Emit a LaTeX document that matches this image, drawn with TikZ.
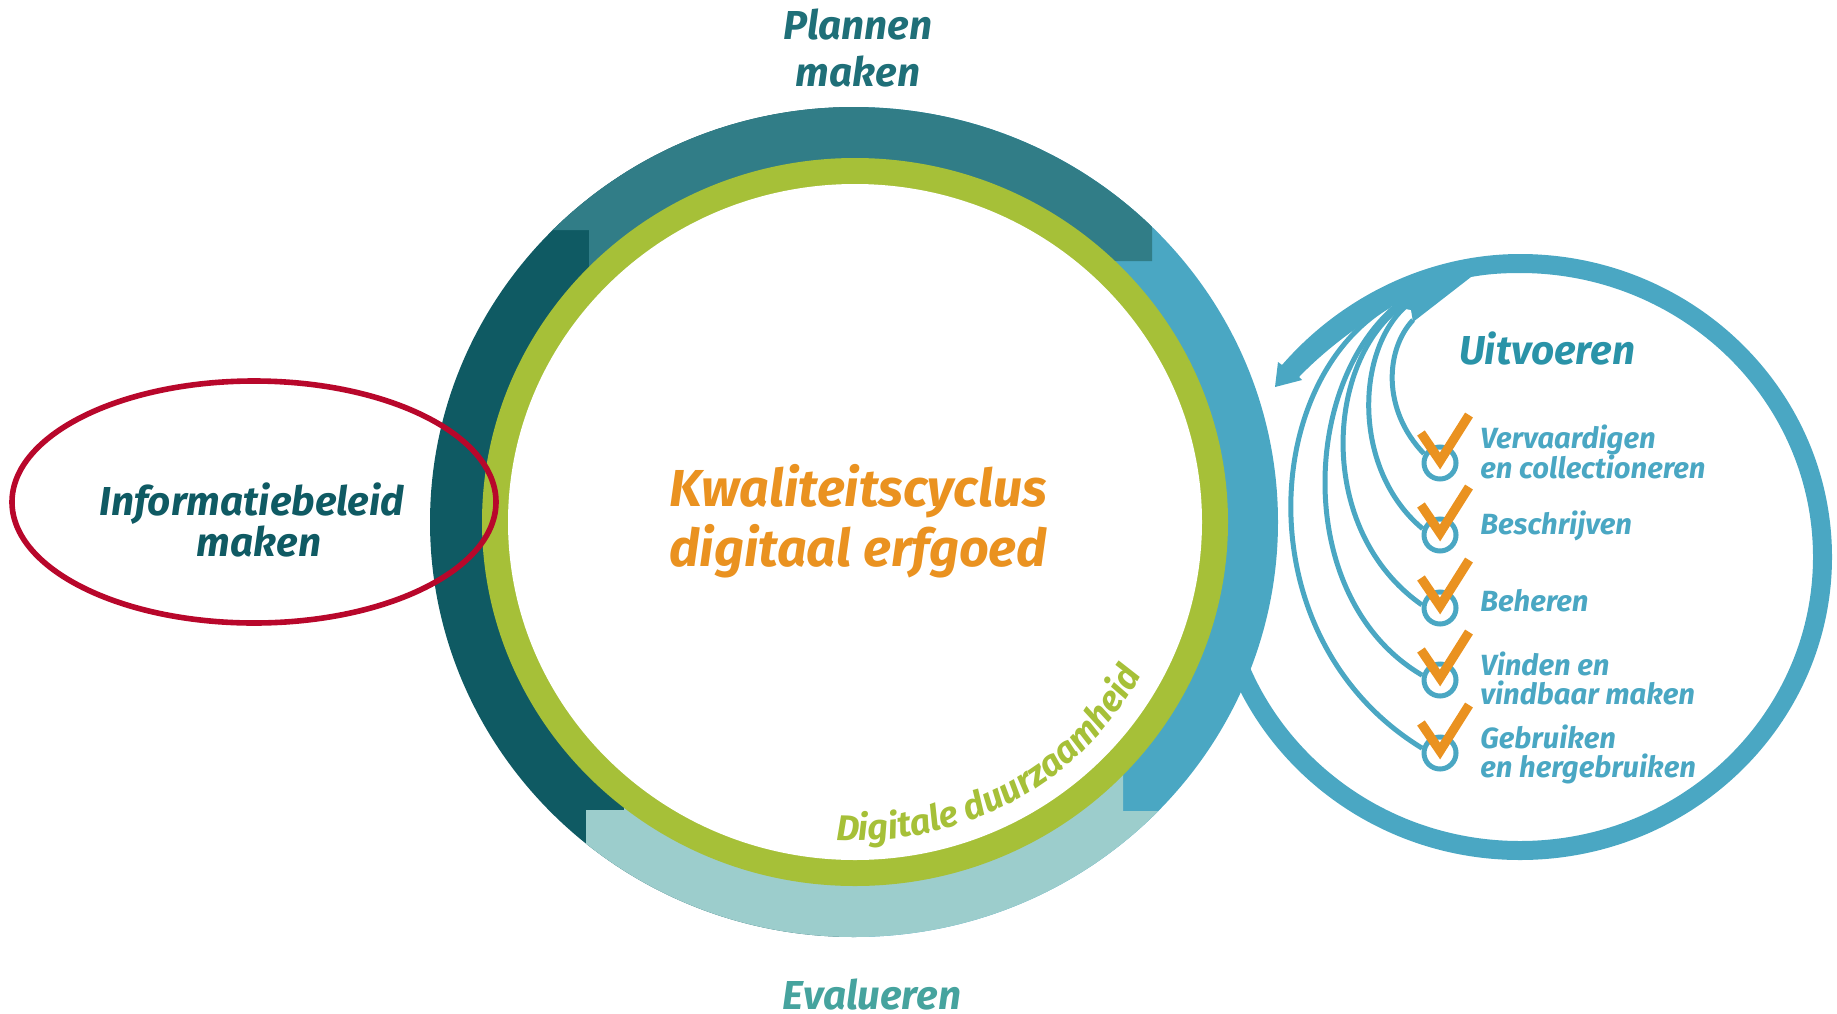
\documentclass[tikz,border=0pt]{standalone}
\usepackage{fontspec}
\setmainfont{Fira Sans}
\usetikzlibrary{positioning}
\usetikzlibrary{decorations.text}
\definecolor{plannen}{HTML}{317D87}
\definecolor{plannentekst}{HTML}{1F6F78}
\definecolor{beleid}{HTML}{0F5A63}
\definecolor{uitvoer}{HTML}{4AA7C3}
\definecolor{uitvoertekst}{HTML}{2A93A8}
\definecolor{evalueer}{HTML}{9CCDCC}
\definecolor{evalueertekst}{HTML}{46A39E}
\definecolor{groen}{HTML}{A6C038}
\definecolor{oranje}{HTML}{EA9220}
\definecolor{rood}{HTML}{B8072B}
\tikzset{
    fase/.style={font=\fontsize{20.2}{20.5}\selectfont\bfseries\itshape, align=center, inner sep=0pt},
    titel/.style={font=\fontsize{26}{30}\selectfont\bfseries\itshape, align=center, inner sep=0pt, text=oranje},
    item/.style={font=\fontsize{14.6}{14.5}\selectfont\bfseries\itshape, align=left, anchor=west, inner sep=0pt, text=uitvoer},
    doel/.style={circle, draw=uitvoer, line width=2.5pt, fill=none, minimum size=16pt, inner sep=0pt},
    lijn/.style={draw=uitvoer, line width=2.5pt},
    vinkje/.style={draw=oranje, line width=4.6pt, miter limit=10},
}
\begin{document}
\begin{tikzpicture}[x=0.5pt,y=-0.5pt]
\useasboundingbox (0,0) rectangle (1837,1013);

% lus rechts
\begin{scope}
\clip (1520,200) -- (1900,200) -- (1900,900) -- (1100,900) -- (1100,600) -- (1520,600) -- cycle;
\draw [draw=uitvoer, line width=9.5pt] (1520,557) ellipse (302.5 and 293.5);
\end{scope}
\fill [uitvoer] (1520,254) .. controls (1428,254) and (1341,297) .. (1282,365)
    -- (1278,362) -- (1275,387) -- (1302,380) -- (1299,377)
    .. controls (1325,350) and (1355,328) .. (1389,306)
    -- (1411,310) -- (1413,322) -- (1471,277) .. controls (1487,274) and (1503,273) .. (1520,273) -- cycle;

% hoofdcirkel
\begin{scope}
\clip (854,522) ellipse (424 and 415);
\fill [beleid] (400,90) rectangle (854,950);
\fill [uitvoer] (854,90) rectangle (1300,950);
\fill [plannen] (400,230) -- (589,230) -- (589,300) -- (1111,300) -- (1111,261) -- (1152,261) -- (1152,90) -- (400,90) -- cycle;
\fill [evalueer] (586,950) -- (586,810) -- (624,810) -- (624,760) -- (1123,760) -- (1123,811) -- (1200,811) -- (1200,950) -- cycle;
\end{scope}
\fill [groen] (855,522) ellipse (373 and 364);
\fill [white] (855,522) ellipse (347 and 338);

\node [titel] (titel) at (858,521) {Kwaliteitscyclus\\digitaal erfgoed};
\node [fase, text=plannentekst] (plan) at (858,48) {Plannen\\[3pt]maken};
\node [fase, text=evalueertekst] (eval) at (872,994) {Evalueren};
\node [fase, text=beleid] (info) at (252,520) {Informatiebeleid\\\hspace*{7pt}maken};
\node [fase, text=uitvoertekst] (uit) at (1547,348) {Uitvoeren};

\path [decorate, decoration={text along path, text align=left,
    text={|\fontsize{17.9}{18}\selectfont\bfseries\itshape\color{groen}|Digitale duurzaamheid}}]
    (836,840) .. controls (962,847.5) and (1083,784.5) .. (1142,673);

\draw [rood, line width=2.8pt] (254,502) ellipse (242 and 121);

% punten met lijnen
\node [doel] (d1) at (1440,463) {};
\node [doel] (d2) at (1440,535) {};
\node [doel] (d3) at (1440,608) {};
\node [doel] (d4) at (1440,680) {};
\node [doel] (d5) at (1440,753) {};
\coordinate (f1) at (1413,320);
\coordinate (f2) at (1407,305);
\coordinate (f3) at (1403,305);
\coordinate (f4) at (1397,305);
\coordinate (f5) at (1390,305);
\draw [lijn] (f1) .. controls (1385,350) and (1382,410) .. (d1.150);
\draw [lijn] (f2) .. controls (1355,350) and (1352,470) .. (d2.160);
\draw [lijn] (f3) .. controls (1325,360) and (1315,530) .. (d3.170);
\draw [lijn] (f4) .. controls (1300,385) and (1294,600) .. (d4.165);
\draw [lijn] (f5) .. controls (1260,380) and (1245,640) .. (d5.165);

\draw [vinkje] (1421,433) -- (1440,461) -- (1469,415);
\draw [vinkje] (1421,505) -- (1440,533) -- (1469,487);
\draw [vinkje] (1421,578) -- (1440,606) -- (1469,560);
\draw [vinkje] (1421,650) -- (1440,678) -- (1469,632);
\draw [vinkje] (1421,723) -- (1440,751) -- (1469,705);

\node [item] (i1) at (1480,452) {Vervaardigen\\[-1pt]en collectioneren};
\node [item] (i2) at (1480,526) {Beschrijven};
\node [item] (i3) at (1480,601) {Beheren};
\node [item] (i4) at (1480,678) {Vinden en\\vindbaar maken};
\node [item] (i5) at (1480,754) {Gebruiken\\en hergebruiken};
\end{tikzpicture}
\end{document}
